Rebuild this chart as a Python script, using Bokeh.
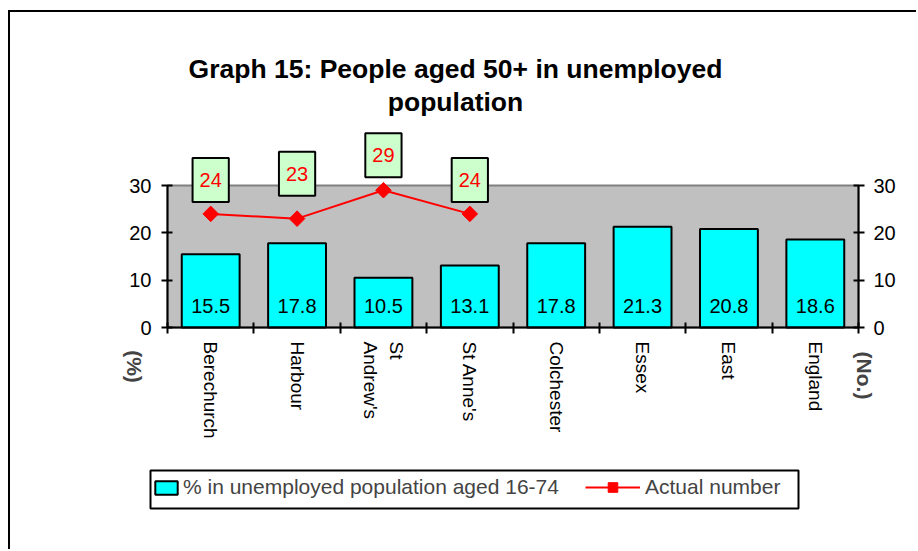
import math
from bokeh.plotting import figure
from bokeh.models import (Range1d, LinearAxis, FixedTicker, Label, Legend,
                          LegendItem, ColumnDataSource, BoxAnnotation)
from bokeh.core.properties import value
from bokeh.embed import file_html
from bokeh.resources import INLINE

# ---------------- data ----------------
categories = ["Berechurch", "Harbour", "St\nAndrew's", "St Anne's",
              "Colchester", "Essex", "East", "England"]
pct_aged_50_plus = [15.5, 17.8, 10.5, 13.1, 17.8, 21.3, 20.8, 18.6]
actual_categories = ["Berechurch", "Harbour", "St\nAndrew's", "St Anne's"]
actual_number = [24, 23, 29, 24]
y_ticks = [0, 10, 20, 30]
title_text = "Graph 15: People aged 50+ in unemployed\npopulation"
left_axis_title = "(%)"
right_axis_title = "(No.)"
bar_series_name = "% in unemployed population aged 16-74"
line_series_name = "Actual number"

# ---------------- layout / style ----------------
FONT = "Liberation Sans"
FIG_W, FIG_H = 908, 539                 # figure size (page offset 10, 12)
AREA_L, AREA_R, AREA_T, AREA_B = 157, 848, 173, 315   # plot area, figure px
label_box_offsets = [34, 45, 35, 34]   # px above each point

n = len(categories)
y_max = y_ticks[-1]
ppx = (AREA_R - AREA_L) / n
ppy = (AREA_B - AREA_T) / y_max


def dx(px):
    return (px - AREA_L) / ppx


def dy(py):
    return (AREA_B - py) / ppy


xs = [i + 0.5 for i in range(n)]
x_line = [xs[categories.index(c)] for c in actual_categories]

bar_src = ColumnDataSource(dict(x=xs, top=pct_aged_50_plus,
                                lab=[f"{v:.1f}" for v in pct_aged_50_plus]))
line_src = ColumnDataSource(dict(x=x_line, y=actual_number))

p = figure(width=FIG_W, height=FIG_H,
           x_range=Range1d(dx(0), dx(FIG_W)), y_range=Range1d(dy(FIG_H), dy(0)),
           x_axis_location=None, y_axis_location=None,
           output_backend="svg", toolbar_location=None, min_border=0,
           background_fill_color="white", border_fill_color="white",
           outline_line_color=None)
p.margin = (10, 0, 0, 8)
p.styles = {"border-left": "2px solid black", "border-top": "2px solid black"}
p.grid.visible = False

# plot area
p.add_layout(BoxAnnotation(left=0, right=n, bottom=0, top=y_max,
                           fill_color="#C0C0C0", fill_alpha=1,
                           line_color="#808080", line_alpha=1, line_width=2,
                           level="underlay"))

# bottom axis: ticks at category boundaries only
xa = LinearAxis(fixed_location=0, bounds=(0, n),
                ticker=FixedTicker(ticks=[], minor_ticks=list(range(n + 1))),
                axis_line_width=2, axis_line_color="black",
                minor_tick_in=5, minor_tick_out=6, minor_tick_line_width=2,
                minor_tick_line_color="black", major_tick_line_color=None)
p.add_layout(xa, "below")


def make_y(loc, standoff):
    return LinearAxis(fixed_location=loc, bounds=(0, y_max),
                      ticker=FixedTicker(ticks=y_ticks),
                      minor_tick_line_color=None,
                      major_tick_in=5, major_tick_out=6,
                      axis_line_width=2, major_tick_line_width=2,
                      axis_line_color="black", major_tick_line_color="black",
                      major_label_text_font=FONT,
                      major_label_text_font_size="20px",
                      major_label_text_color="black",
                      major_label_standoff=standoff)


p.add_layout(make_y(0, 10), "left")
p.add_layout(make_y(n, 9), "right")

# bars
bars = p.vbar(x="x", top="top", width=0.67, source=bar_src,
              fill_color="#00FFFF", line_color="black", line_width=2)
p.text(x="x", y=0, text="lab", source=bar_src, y_offset=-22,
       text_align="center", text_baseline="middle",
       text_font=value(FONT), text_font_size="20px", text_color="black")

# line
ln = p.line(x="x", y="y", source=line_src, line_color="#FF0000", line_width=2)
pts = p.scatter(x="x", y="y", source=line_src, marker="square",
                angle=math.pi / 4, size=11, fill_color="#FF0000",
                line_color="#FF0000")

for xv, yv, off in zip(x_line, actual_number, label_box_offsets):
    p.add_layout(Label(x=xv, y=yv, y_offset=off, text=str(yv),
                       text_align="center", text_baseline="middle",
                       text_font=FONT, text_font_size="20px",
                       text_color="#FF0000",
                       background_fill_color="#CCFFCC",
                       border_line_color="black", border_line_width=2,
                       padding=(7, 15)))

# category labels (rotated, reading downward)
for xv, c in zip(xs, categories):
    p.add_layout(Label(x=xv, y=0, y_offset=-14, text=c, angle=-math.pi / 2,
                       text_align="left", text_baseline="middle",
                       text_font=FONT, text_font_size="19px",
                       text_color="black"))

# axis titles
p.add_layout(Label(x=0, y=0, x_offset=-33, y_offset=-39, text=left_axis_title,
                   angle=-math.pi / 2, text_align="center",
                   text_baseline="middle", text_font=FONT,
                   text_font_size="21px", text_font_style="bold"))
p.add_layout(Label(x=n, y=0, x_offset=6, y_offset=-48,
                   text=right_axis_title, angle=-math.pi / 2,
                   text_align="center", text_baseline="middle",
                   text_font=FONT, text_font_size="21px",
                   text_font_style="bold"))

# title
p.add_layout(Label(x=0, y=y_max, x_offset=288, y_offset=100, text=title_text,
                   text_align="center", text_baseline="middle",
                   text_font=FONT, text_font_size="26.5px",
                   text_line_height=1.1,
                   text_font_style="bold", text_color="black"))

# legend: outer box + two item groups
p.add_layout(BoxAnnotation(left=dx(140), right=dx(788), top=dy(458),
                           bottom=dy(496), fill_color="white", fill_alpha=1,
                           line_color="black", line_alpha=1, line_width=2,
                           level="underlay"))
common = dict(orientation="horizontal", border_line_color=None,
              background_fill_alpha=0, label_text_font=FONT,
              label_text_font_size="21px",
              padding=0, margin=0, spacing=0)
p.add_layout(Legend(items=[LegendItem(label=bar_series_name, renderers=[bars])],
                    location=(142, 52), glyph_width=28, glyph_height=17,
                    label_height=17, label_standoff=3, **common))
p.add_layout(Legend(items=[LegendItem(label=line_series_name,
                                      renderers=[ln, pts])],
                    location=(575, 52), glyph_width=55, glyph_height=24,
                    label_height=24, label_standoff=5, **common))

open("out.html", "w").write(file_html(p, INLINE))
